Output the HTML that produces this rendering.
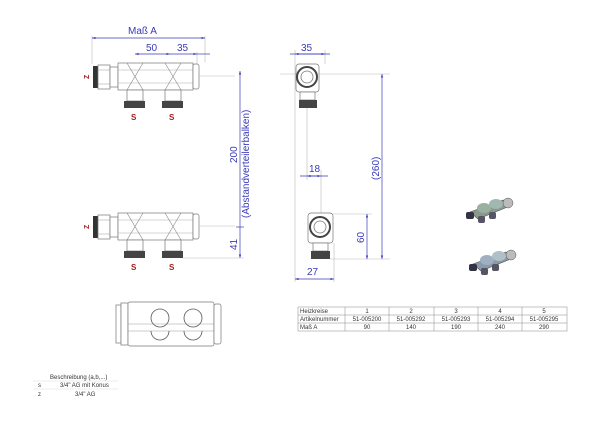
<!DOCTYPE html>
<html><head><meta charset="utf-8"><style>
body{margin:0;background:#fff;width:600px;height:424px;overflow:hidden}
svg{display:block;font-family:"Liberation Sans",sans-serif}
.d{stroke:#3a3ab8;stroke-width:.7;fill:none}
.e{stroke:#bbb;stroke-width:.6;fill:none}
.b{fill:#3a3ab8;font-size:10px}
.o{stroke:#777;stroke-width:.7;fill:#fff}
.t{font-size:6px;fill:#333}
</style></head><body>
<svg width="600" height="424" viewBox="0 0 600 424">
<defs>
<marker id="a" viewBox="0 0 6 6" refX="6" refY="3" markerWidth="5" markerHeight="5" orient="auto-start-reverse"><path d="M0,1L6,3L0,5z" fill="#3a3ab8"/></marker>
<g id="m">
<rect x="93" y="66" width="5" height="22" fill="#333"/>
<rect x="98" y="65" width="12" height="24" class="o"/>
<line x1="98" y1="70" x2="110" y2="70" stroke="#999" stroke-width=".5"/>
<line x1="98" y1="84" x2="110" y2="84" stroke="#999" stroke-width=".5"/>
<rect x="110" y="67" width="8" height="20" class="o"/>
<rect x="118" y="63" width="75" height="27" class="o"/>
<line x1="118" y1="70" x2="193" y2="70" stroke="#aaa" stroke-width=".5"/>
<line x1="118" y1="83" x2="193" y2="83" stroke="#aaa" stroke-width=".5"/>
<path d="M127,63L143,90M143,63L127,90M165,63L181,90M181,63L165,90" stroke="#888" stroke-width=".6"/>
<rect x="193" y="64" width="6" height="25" rx="2" class="o"/>
<line x1="199" y1="76" x2="235" y2="76" class="e"/>
<rect x="127" y="90" width="16" height="11" class="o"/>
<rect x="124" y="101" width="21" height="7" fill="#444"/>
<rect x="165" y="90" width="16" height="11" class="o"/>
<rect x="162" y="101" width="21" height="7" fill="#444"/>
<text x="84" y="80" fill="#a02020" font-size="7" font-weight="bold" transform="rotate(-90 86 77)">Z</text>
<text x="131" y="120" fill="#a02020" font-size="8" font-weight="bold">S</text>
<text x="169" y="120" fill="#a02020" font-size="8" font-weight="bold">S</text>
</g>
</defs>
<use href="#m"/>
<use href="#m" transform="translate(0,150)"/>
<!-- top dims -->
<line x1="92" y1="36" x2="92" y2="64" class="e"/>
<line x1="205" y1="36" x2="205" y2="62" class="e"/>
<line x1="197" y1="52" x2="197" y2="64" class="e"/>
<line x1="92" y1="38" x2="205" y2="38" class="d" marker-start="url(#a)" marker-end="url(#a)"/>
<text x="128" y="34" class="b">Maß A</text>
<line x1="135" y1="54" x2="170" y2="54" class="d" marker-start="url(#a)" marker-end="url(#a)"/>
<line x1="170" y1="54" x2="197" y2="54" class="d" marker-end="url(#a)"/>
<line x1="197" y1="54" x2="210" y2="54" class="d"/>
<text x="146" y="51" class="b">50</text>
<text x="177" y="51" class="b">35</text>
<line x1="240" y1="71" x2="240" y2="258" class="d" marker-start="url(#a)" marker-end="url(#a)"/>
<line x1="240" y1="227" x2="240" y2="227" class="d"/>
<line x1="236" y1="227" x2="244" y2="227" class="d"/>
<line x1="183" y1="258" x2="244" y2="258" class="e"/>
<text class="b" transform="translate(237,163) rotate(-90)">200</text>
<text class="b" transform="translate(249,218) rotate(-90)">(Abstandverteilerbalken)</text>
<text class="b" transform="translate(237,250) rotate(-90)">41</text>
<!-- side view -->
<line x1="295" y1="50" x2="295" y2="282" class="e"/>
<line x1="325" y1="50" x2="325" y2="64" class="e"/>
<line x1="290" y1="54" x2="330" y2="54" class="d"/>
<line x1="295" y1="54" x2="325" y2="54" class="d" marker-start="url(#a)" marker-end="url(#a)"/>
<text x="301" y="51" class="b">35</text>
<line x1="280" y1="74" x2="390" y2="74" class="e"/>
<rect x="296" y="64" width="23" height="28" rx="3" class="o"/>
<circle cx="307" cy="77" r="10" fill="none" stroke="#444" stroke-width="2"/>
<circle cx="307" cy="77" r="6" fill="none" stroke="#777" stroke-width=".8"/>
<rect x="300" y="92" width="15" height="8" class="o"/>
<rect x="299" y="100" width="18" height="8" fill="#444"/>
<line x1="307" y1="108" x2="307" y2="180" class="e"/>
<line x1="321" y1="170" x2="321" y2="214" class="e"/>
<line x1="300" y1="176" x2="328" y2="176" class="d"/>
<line x1="307" y1="176" x2="321" y2="176" class="d" marker-start="url(#a)" marker-end="url(#a)"/>
<text x="309" y="172" class="b">18</text>
<rect x="308" y="213" width="25" height="30" rx="3" class="o"/>
<circle cx="320" cy="227" r="10" fill="none" stroke="#444" stroke-width="2"/>
<circle cx="320" cy="227" r="6" fill="none" stroke="#777" stroke-width=".8"/>
<rect x="313" y="243" width="15" height="8" class="o"/>
<rect x="311" y="251" width="19" height="8" fill="#444"/>
<line x1="333" y1="214" x2="372" y2="214" class="e"/>
<line x1="330" y1="259" x2="390" y2="259" class="e"/>
<line x1="334" y1="243" x2="334" y2="282" class="e"/>
<line x1="367" y1="214" x2="367" y2="259" class="d" marker-start="url(#a)" marker-end="url(#a)"/>
<text class="b" transform="translate(364,243) rotate(-90)">60</text>
<line x1="382" y1="74" x2="382" y2="259" class="d" marker-start="url(#a)" marker-end="url(#a)"/>
<text class="b" transform="translate(379,180) rotate(-90)">(260)</text>
<line x1="295" y1="279" x2="334" y2="279" class="d" marker-start="url(#a)" marker-end="url(#a)"/>
<text x="307" y="275" class="b">27</text>
<!-- photos -->
<g>
<path d="M470,212L503,200L510,206L478,219z" fill="#8a9a8a" stroke="#555" stroke-width=".6"/>
<ellipse cx="484" cy="208" rx="7" ry="5" fill="#9ab0a0"/><ellipse cx="496" cy="204" rx="7" ry="5" fill="#a0b8b0"/>
<circle cx="508" cy="203" r="5" fill="#bbb" stroke="#555" stroke-width=".5"/>
<rect x="466" y="212" width="8" height="7" fill="#334" rx="2"/>
<rect x="478" y="216" width="7" height="7" fill="#556" rx="2"/><rect x="489" y="212" width="7" height="7" fill="#556" rx="2"/>
</g>
<g transform="translate(3,52)">
<path d="M470,212L503,200L510,206L478,219z" fill="#8a9aa8" stroke="#555" stroke-width=".6"/>
<ellipse cx="484" cy="208" rx="7" ry="5" fill="#a0b0c0"/><ellipse cx="496" cy="204" rx="7" ry="5" fill="#b0c0c8"/>
<circle cx="508" cy="203" r="5" fill="#bbb" stroke="#555" stroke-width=".5"/>
<rect x="466" y="212" width="8" height="7" fill="#334" rx="2"/>
<rect x="478" y="216" width="7" height="7" fill="#556" rx="2"/><rect x="489" y="212" width="7" height="7" fill="#556" rx="2"/>
</g>
<!-- bottom view -->
<rect x="116" y="305" width="5" height="38" class="o"/>
<rect x="121" y="303" width="7" height="42" class="o"/>
<rect x="128" y="302" width="86" height="44" rx="2" class="o"/>
<line x1="128" y1="324" x2="214" y2="324" stroke="#999" stroke-width=".5"/>
<line x1="128" y1="331" x2="214" y2="331" stroke="#999" stroke-width=".5"/>
<rect x="214" y="304" width="7" height="40" rx="2" class="o"/>
<circle cx="160" cy="318" r="9" fill="none" stroke="#555" stroke-width=".8"/>
<circle cx="193" cy="318" r="9" fill="none" stroke="#555" stroke-width=".8"/>
<path d="M151,331A9,9 0 0 0 169,331M184,331A9,9 0 0 0 202,331" fill="none" stroke="#555" stroke-width=".8"/>
<!-- table -->
<g class="t">
<rect x="298" y="307" width="269" height="24" fill="none" stroke="#888" stroke-width=".5"/>
<path d="M298,315H567M298,323H567M345,307V331M389,307V331M434,307V331M478,307V331M522,307V331" stroke="#888" stroke-width=".5"/>
<text x="300" y="313">Heizkreise</text><text x="300" y="321">Artikelnummer</text><text x="300" y="329">Maß A</text>
<g text-anchor="middle">
<text x="367" y="313">1</text><text x="411" y="313">2</text><text x="456" y="313">3</text><text x="500" y="313">4</text><text x="544" y="313">5</text>
<text x="367" y="321">51-005200</text><text x="411" y="321">51-005292</text><text x="456" y="321">51-005293</text><text x="500" y="321">51-005294</text><text x="544" y="321">51-005295</text>
<text x="367" y="329">90</text><text x="411" y="329">140</text><text x="456" y="329">190</text><text x="500" y="329">240</text><text x="544" y="329">290</text>
</g>
<text x="50" y="379">Beschreibung (a,b,...)</text>
<text x="38" y="387">s</text><text x="60" y="387">3/4" AG mit Konus</text>
<text x="38" y="396">z</text><text x="75" y="396">3/4" AG</text>
</g>
<path d="M33,381H118M33,389H118" stroke="#ddd" stroke-width=".5"/>
</svg>
</body></html>
